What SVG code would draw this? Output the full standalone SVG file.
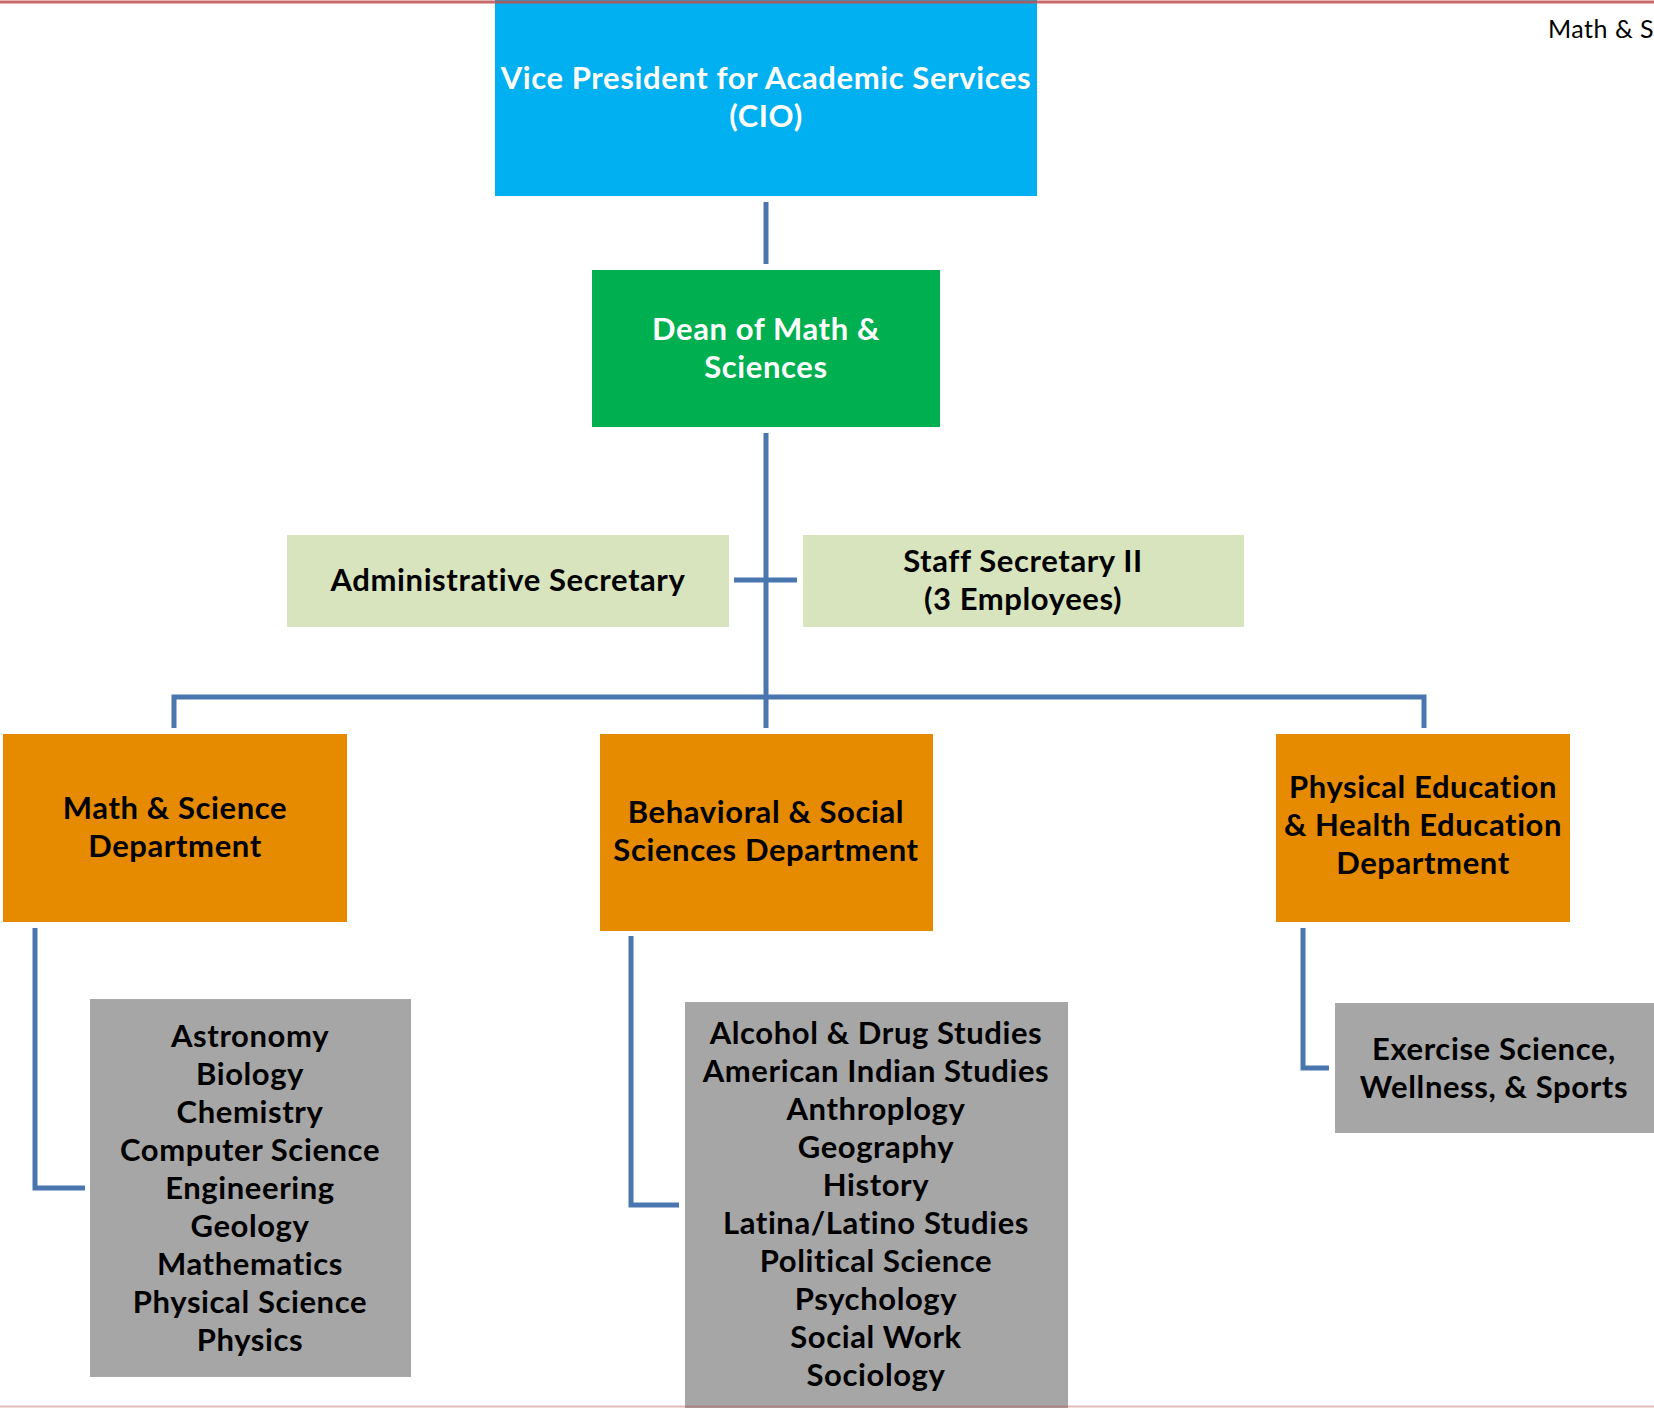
<svg xmlns="http://www.w3.org/2000/svg" width="1654" height="1408" viewBox="0 0 1654 1408">
  <style>
    .t { font-family: Lato, "Open Sans", "Liberation Sans", sans-serif; font-weight: bold; font-size: 31px; letter-spacing: 0.6px; text-anchor: middle; }
    .w { fill: #FFFFFF; }
    .k { fill: #000000; }
    .conn { fill: none; stroke: #4A76B0; stroke-width: 5; stroke-linecap: butt; stroke-linejoin: miter; }
    .vp { fill: #00B0F0; }
    .dean { fill: #00B050; }
    .staff { fill: #D7E4BD; }
    .dept { fill: #E68A00; }
    .list { fill: #A6A6A6; }
  </style>
  <rect width="1654" height="1408" fill="#FFFFFF"/>

  <!-- header caption, running off the right edge -->
  <text x="1548" y="38" font-family="Lato, 'Open Sans', 'Liberation Sans', sans-serif" font-size="25" letter-spacing="0.5" fill="#000000">Math &amp; S</text>

  <!-- connectors -->
  <g id="connectors">
    <line class="conn" x1="766" y1="202" x2="766" y2="264"/>
    <line class="conn" x1="766" y1="433" x2="766" y2="728"/>
    <line class="conn" x1="734" y1="580" x2="797" y2="580"/>
    <polyline class="conn" points="174,728 174,697 1424,697 1424,728"/>
    <polyline class="conn" points="35,928 35,1188 85,1188"/>
    <polyline class="conn" points="631,936 631,1205 679,1205"/>
    <polyline class="conn" points="1303,928 1303,1068 1329,1068"/>
  </g>

  <g id="vp">
    <rect class="vp" x="495" y="0" width="542" height="196"/>
    <text class="t w" x="766" y="89">Vice President for Academic Services</text>
    <text class="t w" x="766" y="127">(CIO)</text>
  </g>

  <g id="dean">
    <rect class="dean" x="592" y="270" width="348" height="157"/>
    <text class="t w" x="766" y="340">Dean of Math &amp;</text>
    <text class="t w" x="766" y="378">Sciences</text>
  </g>

  <g id="admin-secretary">
    <rect class="staff" x="287" y="535" width="442" height="92"/>
    <text class="t k" x="508" y="591">Administrative Secretary</text>
  </g>

  <g id="staff-secretary">
    <rect class="staff" x="803" y="535" width="441" height="92"/>
    <text class="t k" x="1023" y="572">Staff Secretary II</text>
    <text class="t k" x="1023" y="610">(3 Employees)</text>
  </g>

  <g id="math-science-dept">
    <rect class="dept" x="3" y="734" width="344" height="188"/>
    <text class="t k" x="175" y="819">Math &amp; Science</text>
    <text class="t k" x="175" y="857">Department</text>
  </g>

  <g id="behavioral-social-dept">
    <rect class="dept" x="600" y="734" width="333" height="197"/>
    <text class="t k" x="766" y="823">Behavioral &amp; Social</text>
    <text class="t k" x="766" y="861">Sciences Department</text>
  </g>

  <g id="pe-health-dept">
    <rect class="dept" x="1276" y="734" width="294" height="188"/>
    <text class="t k" x="1423" y="798">Physical Education</text>
    <text class="t k" x="1423" y="836">&amp; Health Education</text>
    <text class="t k" x="1423" y="874">Department</text>
  </g>

  <g id="math-science-programs">
    <rect class="list" x="90" y="999" width="321" height="378"/>
    <text class="t k" x="250" y="1047">Astronomy</text>
    <text class="t k" x="250" y="1085">Biology</text>
    <text class="t k" x="250" y="1123">Chemistry</text>
    <text class="t k" x="250" y="1161">Computer Science</text>
    <text class="t k" x="250" y="1199">Engineering</text>
    <text class="t k" x="250" y="1237">Geology</text>
    <text class="t k" x="250" y="1275">Mathematics</text>
    <text class="t k" x="250" y="1313">Physical Science</text>
    <text class="t k" x="250" y="1351">Physics</text>
  </g>

  <g id="behavioral-social-programs">
    <rect class="list" x="685" y="1002" width="383" height="406"/>
    <text class="t k" x="876" y="1044">Alcohol &amp; Drug Studies</text>
    <text class="t k" x="876" y="1082">American Indian Studies</text>
    <text class="t k" x="876" y="1120">Anthroplogy</text>
    <text class="t k" x="876" y="1158">Geography</text>
    <text class="t k" x="876" y="1196">History</text>
    <text class="t k" x="876" y="1234">Latina/Latino Studies</text>
    <text class="t k" x="876" y="1272">Political Science</text>
    <text class="t k" x="876" y="1310">Psychology</text>
    <text class="t k" x="876" y="1348">Social Work</text>
    <text class="t k" x="876" y="1386">Sociology</text>
  </g>

  <g id="pe-health-programs">
    <rect class="list" x="1335" y="1003" width="319" height="130"/>
    <text class="t k" x="1494" y="1060">Exercise Science,</text>
    <text class="t k" x="1494" y="1098">Wellness, &amp; Sports</text>
  </g>

  <!-- page rules -->
  <line x1="0" y1="2" x2="1654" y2="2" stroke="#C0504D" stroke-width="3" stroke-opacity="0.85"/>
  <line x1="0" y1="1406.5" x2="1654" y2="1406.5" stroke="#C0504D" stroke-width="2" stroke-opacity="0.4"/>
</svg>
